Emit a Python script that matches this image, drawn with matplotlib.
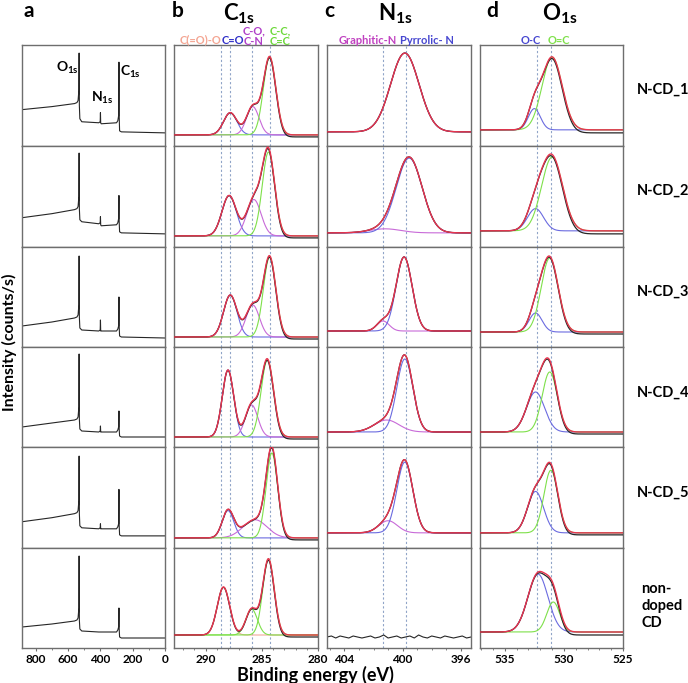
import numpy as np
import matplotlib
matplotlib.use('Agg')
import matplotlib.pyplot as plt
from matplotlib.ticker import MultipleLocator

plt.rcParams['font.family'] = ['Lato', 'DejaVu Sans']
plt.rcParams['mathtext.fontset'] = 'custom'
plt.rcParams['mathtext.rm'] = 'Lato'
plt.rcParams['mathtext.bf'] = 'Lato:bold'

# ---------------- data ----------------
samples = ['N-CD_1', 'N-CD_2', 'N-CD_3', 'N-CD_4', 'N-CD_5', 'non-\ndoped\nCD']

# survey spectra (normalised intensity at anchor energies)
survey_E = [885, 700, 560, 545, 538, 533, 531.5, 530, 527, 515, 410, 401, 399.5, 398, 395,
            300, 292, 287, 285, 283.5, 281, 270, 0]
survey_1 = [0.36, 0.39, 0.42, 0.43, 0.45, 0.55, 0.92, 0.40, 0.27, 0.24, 0.23, 0.24, 0.33, 0.23, 0.22,
            0.23, 0.25, 0.30, 0.83, 0.30, 0.15, 0.14, 0.13]
survey_2 = [0.29, 0.33, 0.37, 0.38, 0.40, 0.50, 0.93, 0.38, 0.27, 0.25, 0.23, 0.24, 0.30, 0.22, 0.21,
            0.22, 0.24, 0.28, 0.51, 0.25, 0.15, 0.14, 0.13]
survey_3 = [0.21, 0.25, 0.29, 0.30, 0.32, 0.42, 0.91, 0.30, 0.19, 0.17, 0.16, 0.17, 0.27, 0.16, 0.16,
            0.16, 0.18, 0.21, 0.50, 0.20, 0.11, 0.10, 0.09]
survey_4 = [0.20, 0.24, 0.27, 0.28, 0.30, 0.40, 0.93, 0.28, 0.18, 0.16, 0.15, 0.16, 0.21, 0.15, 0.15,
            0.15, 0.17, 0.20, 0.36, 0.18, 0.11, 0.10, 0.10]
survey_5 = [0.26, 0.30, 0.34, 0.35, 0.37, 0.47, 0.91, 0.34, 0.22, 0.20, 0.19, 0.20, 0.24, 0.19, 0.19,
            0.19, 0.21, 0.24, 0.58, 0.22, 0.13, 0.12, 0.12]
survey_6 = [0.21, 0.24, 0.27, 0.28, 0.30, 0.40, 0.92, 0.28, 0.19, 0.17, 0.16, 0.16, 0.16, 0.16, 0.16,
            0.16, 0.18, 0.21, 0.40, 0.19, 0.11, 0.10, 0.10]
surveys = [survey_1, survey_2, survey_3, survey_4, survey_5, survey_6]

# C1s fitted components: (centre eV, amplitude, FWHM eV) per sample; amplitude 0 = absent
c1s_base = [0.11, 0.11, 0.10, 0.10, 0.10, 0.13]
c1s_drop = [0.02, 0.02, 0.02, 0.02, 0.02, 0.02]
c1s_coo = [(288.5, 0.0, 1.3), (288.5, 0.0, 1.3), (288.5, 0.0, 1.3), (288.5, 0.0, 1.3), (288.5, 0.0, 1.3), (288.4, 0.48, 1.3)]
c1s_co = [(287.8, 0.22, 1.4), (287.9, 0.40, 1.5), (287.8, 0.42, 1.4), (288.0, 0.67, 1.2), (288.0, 0.27, 1.2), (287.8, 0.0, 1.3)]
c1s_con = [(285.8, 0.28, 1.3), (285.7, 0.36, 1.5), (285.8, 0.32, 1.4), (285.9, 0.32, 1.3), (285.6, 0.18, 2.5), (285.9, 0.26, 1.2)]
c1s_cc = [(284.3, 0.77, 1.3), (284.4, 0.83, 1.3), (284.3, 0.80, 1.3), (284.5, 0.77, 1.3), (284.1, 0.84, 1.2), (284.4, 0.76, 1.2)]
c1s_con_color = ['#c86ad8', '#c86ad8', '#c86ad8', '#c86ad8', '#c86ad8', '#7ee04a']

# N1s components
n1s_base = [0.14, 0.14, 0.16, 0.15, 0.15, 0.11]
n1s_pyr = [(399.85, 0.78, 2.3), (399.55, 0.74, 2.1), (399.9, 0.74, 1.3), (399.85, 0.73, 1.3), (399.85, 0.70, 1.3), (399.8, 0.0, 1.3)]
n1s_gra = [(401.3, 0.0, 2.0), (401.2, 0.04, 2.5), (401.35, 0.10, 1.0), (401.1, 0.12, 2.0), (401.0, 0.12, 1.5), (401.3, 0.0, 1.5)]
# non-doped N1s noise trace
n1s_nd_E = [405.2, 404.9, 404.6, 404.3, 404.0, 403.7, 403.4, 403.1, 402.8, 402.5, 402.2, 401.9, 401.6,
            401.3, 401.0, 400.7, 400.4, 400.1, 399.8, 399.5, 399.2, 398.9, 398.6, 398.3, 398.0,
            397.7, 397.4, 397.1, 396.8, 396.5, 396.2, 395.9, 395.6, 395.3]
n1s_nd_I = [0.11, 0.12, 0.10, 0.12, 0.11, 0.10, 0.12, 0.11, 0.10, 0.11, 0.12, 0.10, 0.11,
            0.13, 0.10, 0.11, 0.12, 0.10, 0.11, 0.12, 0.10, 0.13, 0.11, 0.10, 0.12,
            0.11, 0.10, 0.12, 0.11, 0.10, 0.11, 0.12, 0.10, 0.11]

# O1s components
o1s_base = [0.16, 0.16, 0.15, 0.15, 0.15, 0.16]
o1s_drop = [0.03, 0.03, 0.02, 0.02, 0.02, 0.03]
o1s_oc = [(532.5, 0.21, 1.2), (532.4, 0.22, 1.6), (532.4, 0.19, 1.3), (532.4, 0.40, 1.8), (532.4, 0.41, 1.6), (532.2, 0.58, 2.0)]
o1s_odc = [(531.0, 0.72, 2.0), (531.0, 0.73, 2.1), (531.2, 0.74, 1.7), (531.2, 0.60, 1.5), (531.1, 0.62, 1.4), (530.9, 0.30, 1.3)]

c1s_ref = [288.6, 287.8, 285.9, 284.3]
n1s_ref = [401.35, 399.8]
o1s_ref = [532.3, 531.1]

# ---------------- styling ----------------
RED = '#e8354f'
BLACK = '#262626'
GREEN = '#7ee04a'
BLUE = '#6b6be0'
PURPLE = '#c86ad8'
SALMON = '#f2a89a'
DASH = '#90a4c8'
SPINE = '#6e6e6e'

W, H = 688, 683
fig = plt.figure(figsize=(W / 100, H / 100), dpi=100)

col_x = [(22, 165), (174, 318), (327, 471), (480, 623)]
row_y = [45, 146, 247, 347, 447, 548, 648]
xlims = [(885, 0), (292.8, 280), (405.2, 395.3), (537.1, 525)]


def gauss(x, p):
    c, a, w = p
    return a * np.exp(-4 * np.log(2) * (x - c) ** 2 / w ** 2)


def make_ax(ci, ri):
    x0, x1 = col_x[ci]
    y0, y1 = row_y[ri], row_y[ri + 1]
    ax = fig.add_axes([x0 / W, 1 - y1 / H, (x1 - x0) / W, (y1 - y0) / H])
    ax.set_xlim(*xlims[ci])
    ax.set_ylim(0, 1)
    ax.set_yticks([])
    for s in ax.spines.values():
        s.set_color(SPINE)
        s.set_linewidth(1.0)
    ax.set_xticks([])
    return ax


def bottom_ticks(ax, major, minor):
    ax.set_xticks(major)
    ax.xaxis.set_minor_locator(MultipleLocator(minor))
    ax.tick_params(axis='x', which='major', direction='out', length=2.5, width=0.8,
                   color=SPINE, labelsize=8.5, pad=1.5)
    ax.tick_params(axis='x', which='minor', direction='out', length=1.5, width=0.6,
                   color=SPINE)
    for lab in ax.get_xticklabels():
        lab.set_fontweight('bold')


def fit_panel(ax, x, base, comps, colors, drop):
    total = np.zeros_like(x)
    for p, col in zip(comps, colors):
        if p[1] <= 0:
            continue
        g = gauss(x, p)
        total += g
        ax.plot(x, base + g, color=col, lw=0.8, zorder=2)
    cum = np.cumsum(total)
    cum = cum / cum[-1] if cum[-1] > 0 else cum
    ax.plot(x, base + total - drop * cum, color=BLACK, lw=0.9, zorder=3)
    ax.plot(x, base + total, color=RED, lw=1.0, zorder=4)


for ri in range(6):
    # survey
    ax = make_ax(0, ri)
    ax.plot(survey_E, surveys[ri], color=BLACK, lw=0.8)
    if ri == 5:
        bottom_ticks(ax, [800, 600, 400, 200, 0], 100)

    # C1s
    ax = make_ax(1, ri)
    for e in c1s_ref:
        ax.axvline(e, color=DASH, lw=0.8, ls=(0, (2, 2)), zorder=1)
    x = np.linspace(292.8, 280, 500)
    fit_panel(ax, x, c1s_base[ri], [c1s_coo[ri], c1s_co[ri], c1s_con[ri], c1s_cc[ri]],
              [SALMON, BLUE, c1s_con_color[ri], GREEN], c1s_drop[ri])
    if ri == 5:
        bottom_ticks(ax, [290, 285, 280], 1)

    # N1s
    ax = make_ax(2, ri)
    for e in n1s_ref:
        ax.axvline(e, color=DASH, lw=0.8, ls=(0, (2, 2)), zorder=1)
    x = np.linspace(405.2, 395.3, 500)
    if ri < 5:
        fit_panel(ax, x, n1s_base[ri], [n1s_gra[ri], n1s_pyr[ri]], [PURPLE, BLUE], 0.0)
    else:
        ax.plot(n1s_nd_E, n1s_nd_I, color=BLACK, lw=0.8)
        bottom_ticks(ax, [404, 400, 396], 1)

    # O1s
    ax = make_ax(3, ri)
    for e in o1s_ref:
        ax.axvline(e, color=DASH, lw=0.8, ls=(0, (2, 2)), zorder=1)
    x = np.linspace(537.1, 525, 500)
    fit_panel(ax, x, o1s_base[ri], [o1s_oc[ri], o1s_odc[ri]], [BLUE, GREEN], o1s_drop[ri])
    if ri == 5:
        bottom_ticks(ax, [535, 530, 525], 1)


def ftext(x, y, s, **kw):
    fig.text(x / W, 1 - y / H, s, **kw)


# panel letters
for (xx, letter) in [(24, 'a'), (172, 'b'), (324, 'c'), (486, 'd')]:
    ftext(xx, 11, letter, fontsize=15, fontweight='bold', ha='left', va='center')

# panel headers
ftext(239, 14, r'$\mathbf{C_{1s}}$', fontsize=16, ha='center', va='center')
ftext(395, 14, r'$\mathbf{N_{1s}}$', fontsize=16, ha='center', va='center')
ftext(560, 14, r'$\mathbf{O_{1s}}$', fontsize=16, ha='center', va='center')

# component labels
lab_kw = dict(fontsize=8, fontweight='bold', ha='center', va='center', linespacing=0.95)
ftext(200, 40, 'C(=O)-O', color='#f4a592', **lab_kw)
ftext(233, 40, 'C=O', color='#2f2fc8', **lab_kw)
ftext(254, 36, 'C-O,\nC-N', color='#b03ec8', **lab_kw)
ftext(280, 36, 'C-C,\nC=C', color='#6cd83a', **lab_kw)
ftext(368, 40, 'Graphitic-N', color='#c040c0', **lab_kw)
ftext(427, 40, 'Pyrrolic- N', color='#4646d0', **lab_kw)
ftext(531, 40, 'O-C', color='#4646d0', **lab_kw)
ftext(559, 40, 'O=C', color='#7ee04a', **lab_kw)

# survey peak labels
ftext(67, 68, r'$\mathbf{O_{1s}}$', fontsize=10, ha='center', va='center')
ftext(102, 98, r'$\mathbf{N_{1s}}$', fontsize=10, ha='center', va='center')
ftext(130, 72, r'$\mathbf{C_{1s}}$', fontsize=10, ha='center', va='center')

# sample labels
for yy, s in zip([90, 191, 292, 393, 493], samples[:5]):
    ftext(637, yy, s, fontsize=10.5, fontweight='bold', ha='left', va='center')
ftext(641, 606, samples[5], fontsize=10.5, fontweight='bold', ha='left', va='center',
      linespacing=1.25)

# axis labels
ftext(9, 342, 'Intensity (counts/s)', fontsize=11.5, fontweight='bold', rotation=90,
      ha='center', va='center')
ftext(315, 675, 'Binding energy (eV)', fontsize=13, fontweight='bold', ha='center', va='center')

fig.savefig('out.png', dpi=100)
